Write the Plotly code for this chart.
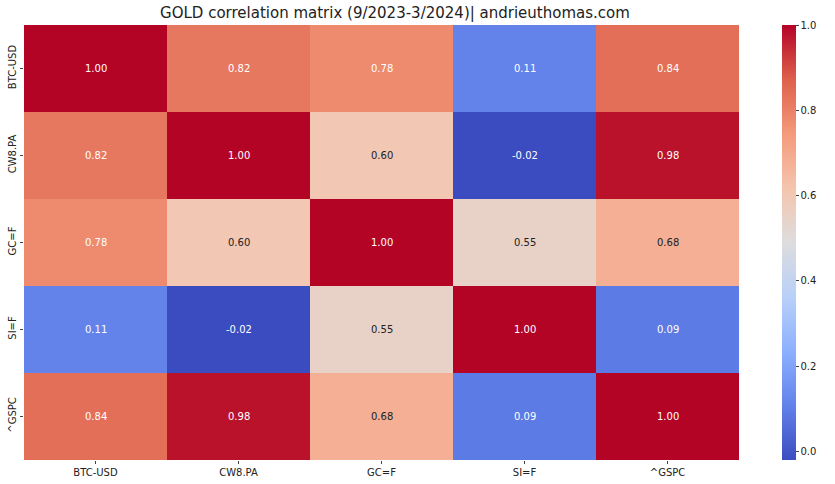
import plotly.graph_objects as go

labels = ["BTC-USD", "CW8.PA", "GC=F", "SI=F", "^GSPC"]
values = [
    [1.00, 0.82, 0.78, 0.11, 0.84],
    [0.82, 1.00, 0.60, -0.02, 0.98],
    [0.78, 0.60, 1.00, 0.55, 0.68],
    [0.11, -0.02, 0.55, 1.00, 0.09],
    [0.84, 0.98, 0.68, 0.09, 1.00],
]

coolwarm = [
    [0.0, "#3b4cc0"], [0.125, "#6282ea"], [0.25, "#8db0fe"], [0.375, "#b8d0f9"],
    [0.5, "#dddddd"], [0.625, "#f5c4ad"], [0.75, "#f49a7b"], [0.875, "#de604d"],
    [1.0, "#b40426"],
]

fig = go.Figure(go.Heatmap(
    z=values, x=labels, y=labels, colorscale=coolwarm, zmin=-0.02, zmax=1.0,
    xgap=0, ygap=0,
    colorbar=dict(thickness=14, len=1, lenmode="fraction", y=0, yanchor="bottom",
                  x=1.06, xanchor="left", xpad=0, ypad=0, outlinewidth=0,
                  tickvals=[0, 0.2, 0.4, 0.6, 0.8, 1.0],
                  ticktext=["0.0", "0.2", "0.4", "0.6", "0.8", "1.0"],
                  ticks="outside", ticklen=3, tickfont=dict(size=10, color="#222")),
))

for i, row in enumerate(values):
    for j, v in enumerate(row):
        col = "white" if (v > 0.75 or v < 0.3) else "#222"
        fig.add_annotation(x=labels[j], y=labels[i], text=f"{v:.2f}", showarrow=False,
                           font=dict(size=10, color=col))

fig.update_layout(
    width=835, height=484, margin=dict(l=24, r=96, t=25, b=24, autoexpand=False),
    plot_bgcolor="white", paper_bgcolor="white",
    font=dict(family="DejaVu Sans", color="#222"),
    title=dict(text="GOLD correlation matrix (9/2023-3/2024)| andrieuthomas.com",
               x=0.473, xanchor="center", y=0.984, yanchor="top", font=dict(size=15)),
    xaxis=dict(ticks="outside", ticklen=3, tickfont=dict(size=10), showgrid=False, automargin=False),
    yaxis=dict(autorange="reversed", ticks="outside", ticklen=3, tickangle=-90,
               tickfont=dict(size=10), showgrid=False, automargin=False),
)
fig.write_html("out.html", config={"displayModeBar": False},
               post_script="document.body.style.margin='0';")
